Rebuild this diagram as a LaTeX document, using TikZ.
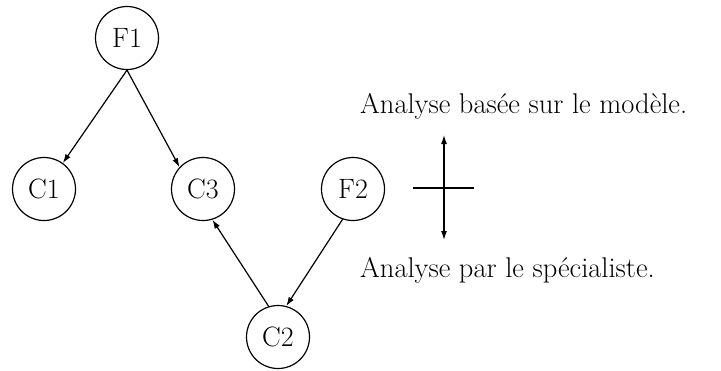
\documentclass[tikz,border=0pt]{standalone}
\usepackage{amsmath,amssymb}
\usepackage{tikz}
\usetikzlibrary{arrows.meta}

\begin{document}
\begin{tikzpicture}[x=1pt,y=-1pt,
		etat/.style={circle,draw,line width=1.2pt,minimum size=63pt,inner sep=0pt,font=\fontsize{28}{33}\selectfont},
		fleche/.style={-{Latex[length=9pt,width=6pt]},line width=1.2pt},
		legende/.style={anchor=base west,inner sep=0pt,font=\fontsize{28.5}{34}\selectfont}]
		\useasboundingbox (0,0) rectangle (721,370);
		\node[etat] (f1) at (127,38) {F1};
		\node[etat] (c1) at (44,189) {C1};
		\node[etat] (c3) at (203,189) {C3};
		\node[etat] (f2) at (353,189) {F2};
		\node[etat] (c2) at (278,337) {C2};
		\draw[fleche] (f1.south) -- (c1.54);
		\draw[fleche] (f1.south) -- (c3.137);
		\draw[fleche] (c2.107) -- (c3.-73);
		\draw[fleche] (f2.-109) -- (c2.75);
		\node[legende] (haut) at (360,113) {Analyse basée sur le modèle.};
		\node[legende] (bas) at (360,277) {Analyse par le spécialiste.};
		\coordinate (vh) at (444,135);
		\coordinate (vb) at (444,240);
		\coordinate (hg) at (413,188);
		\coordinate (hd) at (474,188);
		\draw[{Latex[length=9pt,width=6pt]}-{Latex[length=9pt,width=6pt]},line width=1.2pt] (vh) -- (vb);
		\draw[line width=1.2pt] (hg) -- (hd);
\end{tikzpicture}
\end{document}
